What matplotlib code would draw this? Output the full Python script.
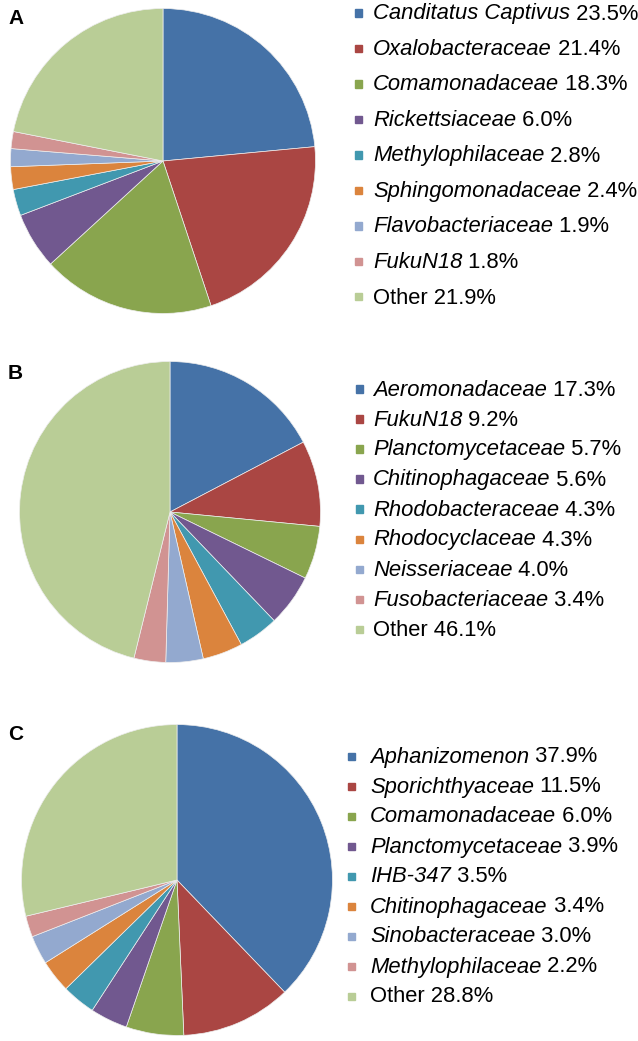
import matplotlib
matplotlib.use("Agg")
import matplotlib.pyplot as plt

plt.rcParams['font.family'] = ['Liberation Sans', 'DejaVu Sans']

colors = ['#4572A7', '#AA4643', '#89A54E', '#71588F', '#4198AF',
          '#DB843D', '#93A9CF', '#D19392', '#B9CD96']

a_names = ['Canditatus Captivus', 'Oxalobacteraceae', 'Comamonadaceae', 'Rickettsiaceae',
           'Methylophilaceae', 'Sphingomonadaceae', 'Flavobacteriaceae', 'FukuN18', 'Other']
a_vals = [23.5, 21.4, 18.3, 6.0, 2.8, 2.4, 1.9, 1.8, 21.9]

b_names = ['Aeromonadaceae', 'FukuN18', 'Planctomycetaceae', 'Chitinophagaceae',
           'Rhodobacteraceae', 'Rhodocyclaceae', 'Neisseriaceae', 'Fusobacteriaceae', 'Other']
b_vals = [17.3, 9.2, 5.7, 5.6, 4.3, 4.3, 4.0, 3.4, 46.1]

c_names = ['Aphanizomenon', 'Sporichthyaceae', 'Comamonadaceae', 'Planctomycetaceae',
           'IHB-347', 'Chitinophagaceae', 'Sinobacteraceae', 'Methylophilaceae', 'Other']
c_vals = [37.9, 11.5, 6.0, 3.9, 3.5, 3.4, 3.0, 2.2, 28.8]

W, H = 638, 1041
fig = plt.figure(figsize=(W / 100, H / 100), dpi=100)
renderer = fig.canvas.get_renderer()

FS = 15.8


def fx(x):
    return x / W


def fy(y):
    return 1 - y / H


def panel(letter, names, vals, pie_box, lab_xy, leg_x, leg_y0, leg_step, text_x):
    left, top, size = pie_box
    ax = fig.add_axes([fx(left), fy(top + size), size / W, size / H])
    ax.pie(vals, colors=colors, startangle=90, counterclock=False, radius=1,
           wedgeprops=dict(edgecolor='#eeeeee', linewidth=0.5))
    ax.set_xlim(-1.01, 1.01)
    ax.set_ylim(-1.01, 1.01)
    ax.axis('off')

    fig.text(fx(lab_xy[0]), fy(lab_xy[1]), letter, fontsize=15, fontweight='bold',
             ha='left', va='center')

    # legend, drawn by hand so the name can be italic and the percentage upright
    for i, (name, v) in enumerate(zip(names, vals)):
        yc = leg_y0 + i * leg_step
        fig.patches.append(plt.Rectangle((fx(leg_x - 3.5), fy(yc + 4.5)), 7 / W, 7 / H,
                                         transform=fig.transFigure, color=colors[i]))
        base = fy(yc + 7.5)
        pct = f"{v:.1f}%"
        if name == 'Other':
            fig.text(fx(text_x), base, f"{name} {pct}", fontsize=FS, va='baseline')
        else:
            t = fig.text(fx(text_x), base, name, fontsize=FS, style='italic', va='baseline')
            x1 = t.get_window_extent(renderer).x1
            fig.text(x1 / W, base, " " + pct, fontsize=FS, va='baseline')


panel('A', a_names, a_vals, (9, 7, 308), (8, 18), 358, 12, 35.5, 373)
panel('B', b_names, b_vals, (18, 360, 304), (8, 374), 359, 388, 30, 373)
panel('C', c_names, c_vals, (20, 723, 314), (8, 735), 351, 755, 30, 370)

fig.savefig('out.png', dpi=100, facecolor='white')
